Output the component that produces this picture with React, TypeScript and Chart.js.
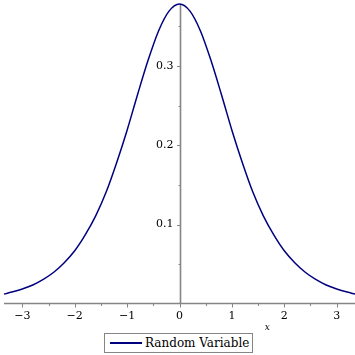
import React, { useEffect, useRef } from "react";
import { Chart, registerables } from "chart.js";

Chart.register(...registerables);

const xValues = [
  -3.35, -3.2, -3.0, -2.8, -2.6, -2.4, -2.2, -2.0, -1.8, -1.6, -1.4, -1.2, -1.0, -0.8, -0.6, -0.4, -0.2,
  0, 0.2, 0.4, 0.6, 0.8, 1.0, 1.2, 1.4, 1.6, 1.8, 2.0, 2.2, 2.4, 2.6, 2.8, 3.0, 3.2, 3.35,
];
const yValues = [
  0.0125, 0.015, 0.019, 0.024, 0.031, 0.04, 0.052, 0.067, 0.087, 0.111, 0.141, 0.178, 0.219, 0.264, 0.307, 0.344, 0.369,
  0.378, 0.369, 0.344, 0.307, 0.264, 0.219, 0.178, 0.141, 0.111, 0.087, 0.067, 0.052, 0.04, 0.031, 0.024, 0.019, 0.015, 0.0125,
];
const xMajorTicks = [-3, -2, -1, 0, 1, 2, 3];
const xMinorTicks = [-2.5, -1.5, -0.5, 0.5, 1.5, 2.5];
const yMajorTicks = [0.1, 0.2, 0.3];
const yMinorTicks = [0.05, 0.15, 0.25, 0.35];
const seriesLabel = "Random Variable";
const xAxisLabel = "x";

const FONT = "'DejaVu Serif', serif";
const AXIS_COLOR = "#858585";
const LINE_COLOR = "#00007f";

const fmt = (v: number) => {
  const s = Number.isInteger(v) ? String(v) : v.toFixed(1);
  return s.replace("-", "\u2212");
};

const axesPlugin = {
  id: "mapleAxes",
  beforeDatasetsDraw(chart: any) {
    const { ctx, chartArea, scales } = chart;
    const xs = scales.x;
    const ys = scales.y;
    const x0 = Math.round(xs.getPixelForValue(0)) + 0.5;
    const y0 = Math.round(ys.getPixelForValue(0)) - 0.5;
    ctx.save();
    ctx.strokeStyle = AXIS_COLOR;
    ctx.lineWidth = 1.6;
    ctx.beginPath();
    ctx.moveTo(chartArea.left, y0);
    ctx.lineTo(chartArea.right, y0);
    ctx.moveTo(x0, chartArea.top);
    ctx.lineTo(x0, y0);
    ctx.stroke();
    ctx.lineWidth = 1;
    ctx.beginPath();
    xMajorTicks.forEach((v) => {
      const px = Math.round(xs.getPixelForValue(v)) + 0.5;
      ctx.moveTo(px, y0);
      ctx.lineTo(px, y0 + 4);
    });
    xMinorTicks.forEach((v) => {
      const px = Math.round(xs.getPixelForValue(v)) + 0.5;
      ctx.moveTo(px, y0);
      ctx.lineTo(px, y0 + 2.5);
    });
    yMajorTicks.forEach((v) => {
      const py = Math.round(ys.getPixelForValue(v)) + 0.5;
      ctx.moveTo(x0, py);
      ctx.lineTo(x0 - 3.5, py);
    });
    yMinorTicks.forEach((v) => {
      const py = Math.round(ys.getPixelForValue(v)) + 0.5;
      ctx.moveTo(x0, py);
      ctx.lineTo(x0 - 2, py);
    });
    ctx.stroke();

    ctx.fillStyle = "#000";
    ctx.font = `11px ${FONT}`;
    ctx.textAlign = "center";
    ctx.textBaseline = "middle";
    xMajorTicks.forEach((v) => {
      ctx.fillText(fmt(v), xs.getPixelForValue(v), y0 + 13);
    });
    ctx.textAlign = "right";
    yMajorTicks.forEach((v) => {
      ctx.fillText(fmt(v), x0 - 7, ys.getPixelForValue(v));
    });
    ctx.font = `italic 9px ${FONT}`;
    ctx.textAlign = "center";
    ctx.fillText(xAxisLabel, chartArea.left + (chartArea.right - chartArea.left) * 0.75, y0 + 24);
    ctx.restore();
  },
};

export default function App() {
  const canvasRef = useRef<HTMLCanvasElement | null>(null);

  useEffect(() => {
    if (!canvasRef.current) return;
    const chart = new Chart(canvasRef.current, {
      type: "line",
      data: {
        datasets: [
          {
            label: seriesLabel,
            data: xValues.map((x, i) => ({ x, y: yValues[i] })),
            borderColor: LINE_COLOR,
            borderWidth: 1.5,
            pointRadius: 0,
            fill: false,
            cubicInterpolationMode: "monotone",
          },
        ],
      },
      options: {
        animation: false,
        responsive: false,
        maintainAspectRatio: false,
        devicePixelRatio: 1,
        layout: { padding: { left: 4, right: 0, top: 4, bottom: 51 } },
        scales: {
          x: { type: "linear", min: -3.35, max: 3.35, display: false },
          y: { type: "linear", min: 0, max: 0.378, display: false },
        },
        plugins: { legend: { display: false }, tooltip: { enabled: false } },
        clip: false,
      } as any,
      plugins: [axesPlugin],
    });
    return () => chart.destroy();
  }, []);

  return (
    <div style={{ position: "fixed", left: 0, top: 0, width: 355, height: 355, background: "#fff" }}>
      <canvas ref={canvasRef} width={355} height={355} style={{ display: "block" }} />
      <div
        style={{
          position: "absolute",
          left: 104,
          top: 333,
          width: 149,
          height: 20,
          boxSizing: "border-box",
          border: `1.5px solid ${AXIS_COLOR}`,
          display: "flex",
          alignItems: "center",
          fontFamily: FONT,
          fontSize: 12,
          color: "#000",
          background: "#fff",
        }}
      >
        <div style={{ width: 32, height: 1.5, background: LINE_COLOR, marginLeft: 5, marginRight: 3, flex: "none" }} />
        <span style={{ whiteSpace: "nowrap" }}>{seriesLabel}</span>
      </div>
    </div>
  );
}
